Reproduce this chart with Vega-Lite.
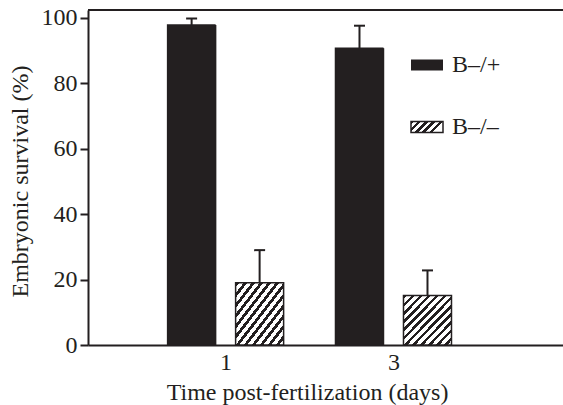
{
  "$schema": "https://vega.github.io/schema/vega-lite/v6.json",
  "width": 475,
  "height": 335,
  "autosize": {"type": "none"},
  "padding": {"left": 88, "top": 10, "right": 0, "bottom": 60},
  "background": "white",
  "config": {
    "view": {"stroke": null},
    "font": "Liberation Serif",
    "axis": {
      "domainColor": "#231f20", "domainWidth": 2,
      "tickColor": "#231f20", "tickWidth": 2,
      "labelFont": "Liberation Serif", "labelFontSize": 24, "labelColor": "#231f20",
      "titleFont": "Liberation Serif", "titleFontSize": 24, "titleFontWeight": "normal", "titleColor": "#231f20",
      "grid": false
    },
    "legend": {
      "orient": "none", "title": null,
      "symbolType": "M-1,-0.344H1V0.344H-1Z", "symbolSize": 1024,
      "symbolStrokeWidth": 1.5, "symbolOpacity": 1,
      "labelFont": "Liberation Serif", "labelFontSize": 24, "labelColor": "#231f20",
      "labelOffset": 8, "padding": 0
    }
  },
  "data": {
    "values": [
      {"day": 1, "genotype": "B–/+", "survival": 97.8, "upper": 99.8},
      {"day": 3, "genotype": "B–/+", "survival": 90.7, "upper": 97.6},
      {"day": 1, "genotype": "B–/–", "survival": 19.0, "upper": 29.0},
      {"day": 3, "genotype": "B–/–", "survival": 15.1, "upper": 22.8}
    ]
  },
  "encoding": {
    "x": {
      "field": "day", "type": "quantitative",
      "scale": {"domain": [-0.58, 4.96], "nice": false, "zero": false},
      "axis": {"values": [1, 3], "ticks": false, "labelPadding": 5, "title": "Time post-fertilization (days)", "titlePadding": 6, "titleX": 219, "format": "d"}
    },
    "y": {
      "field": "survival", "type": "quantitative",
      "scale": {"domain": [0, 102.4], "nice": false},
      "axis": {"values": [0, 20, 40, 60, 80, 100], "tickSize": 8, "labelPadding": 3, "title": "Embryonic survival (%)", "titlePadding": 9, "titleY": 171}
    }
  },
  "layer": [
    {
      "mark": {"type": "rule", "color": "#231f20", "strokeWidth": 2, "xOffset": {"expr": "datum.genotype === 'B–/+' ? -34 : 34"}},
      "encoding": {"y2": {"field": "upper"}}
    },
    {
      "mark": {"type": "tick", "orient": "horizontal", "color": "#231f20", "opacity": 1, "size": 11, "thickness": 2, "xOffset": {"expr": "datum.genotype === 'B–/+' ? -34 : 34"}},
      "encoding": {"y": {"field": "upper", "type": "quantitative"}}
    },
    {
      "transform": [{"filter": "datum.genotype === 'B–/+'"}],
      "mark": {"type": "bar", "width": 48, "fill": "#231f20", "stroke": "#231f20", "strokeWidth": 1.5, "xOffset": -34},
      "encoding": {
        "y": {"field": "survival", "type": "quantitative", "stack": null},
        "strokeDash": {
          "field": "genotype", "type": "nominal",
          "scale": {"domain": ["B–/+"], "range": [[1, 0]]},
          "legend": {"legendX": 322, "legendY": 38, "symbolStrokeColor": "#231f20"}
        }
      }
    },
    {
      "transform": [{"filter": "datum.genotype === 'B–/–'"}],
      "mark": {
        "type": "bar", "width": 48, "stroke": "#231f20", "strokeWidth": 1.5, "xOffset": 34,
        "fill": {
          "gradient": "linear", "x1": 0, "y1": 0, "x2": 1, "y2": 1,
          "stops": [
            {"offset": 0, "color": "#231f20"}, {"offset": 0.0375, "color": "#231f20"}, {"offset": 0.0375, "color": "#ffffff"}, {"offset": 0.08333, "color": "#ffffff"},
            {"offset": 0.08333, "color": "#231f20"}, {"offset": 0.12083, "color": "#231f20"}, {"offset": 0.12083, "color": "#ffffff"}, {"offset": 0.16667, "color": "#ffffff"},
            {"offset": 0.16667, "color": "#231f20"}, {"offset": 0.20417, "color": "#231f20"}, {"offset": 0.20417, "color": "#ffffff"}, {"offset": 0.25, "color": "#ffffff"},
            {"offset": 0.25, "color": "#231f20"}, {"offset": 0.2875, "color": "#231f20"}, {"offset": 0.2875, "color": "#ffffff"}, {"offset": 0.33333, "color": "#ffffff"},
            {"offset": 0.33333, "color": "#231f20"}, {"offset": 0.37083, "color": "#231f20"}, {"offset": 0.37083, "color": "#ffffff"}, {"offset": 0.41667, "color": "#ffffff"},
            {"offset": 0.41667, "color": "#231f20"}, {"offset": 0.45417, "color": "#231f20"}, {"offset": 0.45417, "color": "#ffffff"}, {"offset": 0.5, "color": "#ffffff"},
            {"offset": 0.5, "color": "#231f20"}, {"offset": 0.5375, "color": "#231f20"}, {"offset": 0.5375, "color": "#ffffff"}, {"offset": 0.58333, "color": "#ffffff"},
            {"offset": 0.58333, "color": "#231f20"}, {"offset": 0.62083, "color": "#231f20"}, {"offset": 0.62083, "color": "#ffffff"}, {"offset": 0.66667, "color": "#ffffff"},
            {"offset": 0.66667, "color": "#231f20"}, {"offset": 0.70417, "color": "#231f20"}, {"offset": 0.70417, "color": "#ffffff"}, {"offset": 0.75, "color": "#ffffff"},
            {"offset": 0.75, "color": "#231f20"}, {"offset": 0.7875, "color": "#231f20"}, {"offset": 0.7875, "color": "#ffffff"}, {"offset": 0.83333, "color": "#ffffff"},
            {"offset": 0.83333, "color": "#231f20"}, {"offset": 0.87083, "color": "#231f20"}, {"offset": 0.87083, "color": "#ffffff"}, {"offset": 0.91667, "color": "#ffffff"},
            {"offset": 0.91667, "color": "#231f20"}, {"offset": 0.95417, "color": "#231f20"}, {"offset": 0.95417, "color": "#ffffff"}, {"offset": 1, "color": "#ffffff"}
          ]
        }
      },
      "encoding": {
        "y": {"field": "survival", "type": "quantitative", "stack": null}
      }
    },
    {
      "transform": [{"filter": "datum.genotype === 'B–/–'"}],
      "mark": {
        "type": "bar", "width": 48, "opacity": 0, "strokeWidth": 1.5, "xOffset": 34,
        "fill": {
          "gradient": "linear", "x1": 0, "y1": 0, "x2": 1, "y2": 0.344,
          "stops": [
            {"offset": 0, "color": "#231f20"}, {"offset": 0.09, "color": "#231f20"}, {"offset": 0.09, "color": "#ffffff"}, {"offset": 0.2, "color": "#ffffff"},
            {"offset": 0.2, "color": "#231f20"}, {"offset": 0.29, "color": "#231f20"}, {"offset": 0.29, "color": "#ffffff"}, {"offset": 0.4, "color": "#ffffff"},
            {"offset": 0.4, "color": "#231f20"}, {"offset": 0.49, "color": "#231f20"}, {"offset": 0.49, "color": "#ffffff"}, {"offset": 0.6, "color": "#ffffff"},
            {"offset": 0.6, "color": "#231f20"}, {"offset": 0.69, "color": "#231f20"}, {"offset": 0.69, "color": "#ffffff"}, {"offset": 0.8, "color": "#ffffff"},
            {"offset": 0.8, "color": "#231f20"}, {"offset": 0.89, "color": "#231f20"}, {"offset": 0.89, "color": "#ffffff"}, {"offset": 1, "color": "#ffffff"}
          ]
        }
      },
      "encoding": {
        "y": {"field": "survival", "type": "quantitative", "stack": null},
        "stroke": {
          "field": "genotype", "type": "nominal",
          "scale": {"domain": ["B–/–"], "range": ["#231f20"]},
          "legend": {"legendX": 322, "legendY": 100}
        }
      }
    },
    {
      "mark": {"type": "rule", "color": "#231f20", "strokeWidth": 2},
      "encoding": {"y": {"datum": 102.4}, "x": null}
    }
  ]
}
